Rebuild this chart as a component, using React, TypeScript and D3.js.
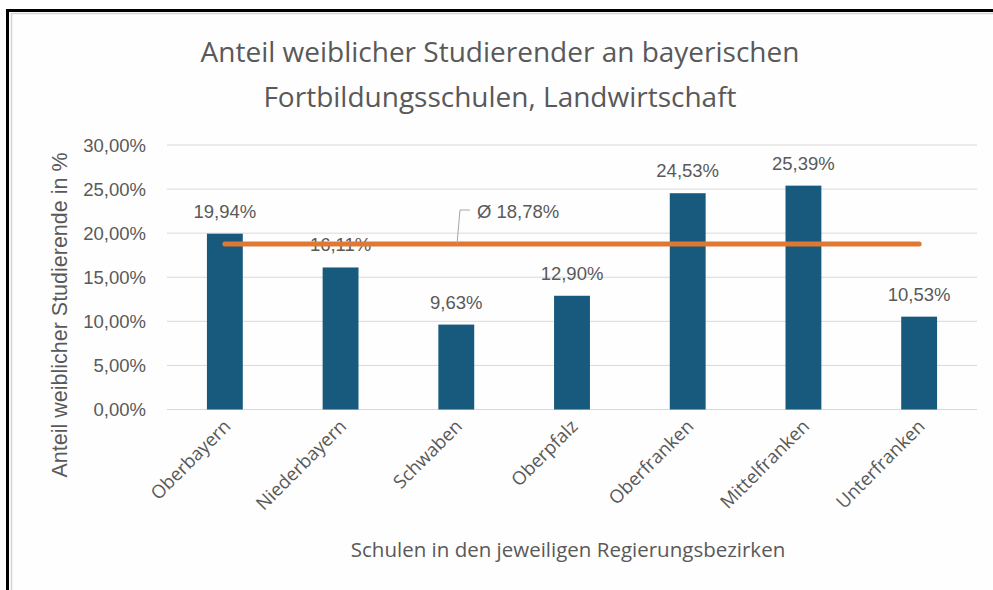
import React from "react";
import * as d3 from "d3";

const categories = ["Oberbayern", "Niederbayern", "Schwaben", "Oberpfalz", "Oberfranken", "Mittelfranken", "Unterfranken"];
const values = [19.94, 16.11, 9.63, 12.9, 24.53, 25.39, 10.53];
const average = 18.78;
const yTicks = [0, 5, 10, 15, 20, 25, 30];
const titleLines = ["Anteil weiblicher Studierender an bayerischen", "Fortbildungsschulen, Landwirtschaft"];
const yTitle = "Anteil weiblicher Studierende in %";
const xTitle = "Schulen in den jeweiligen Regierungsbezirken";

const W = 993, H = 590;
const left = 167, right = 977, top = 145, bottom = 409.5;
const fmt = (v: number) => v.toFixed(2).replace(".", ",") + "%";
const sans = "'Liberation Sans', Arial, sans-serif";
const aptos = "'Open Sans', 'Noto Sans', sans-serif";
const textCol = "#595959";

export default function App() {
  const x = d3.scaleBand<string>().domain(categories).range([left, right]).paddingInner(0.69).paddingOuter(0.345);
  const y = d3.scaleLinear().domain([0, 30]).range([bottom, top]);
  const xc = (c: string) => (x(c) as number) + x.bandwidth() / 2;
  const avgY = y(average);
  const leaderX = 457;
  return (
    <svg width={W} height={H} style={{ position: "absolute", left: 0, top: 0, background: "#fefefe" }}>
      <rect x={0} y={0} width={W} height={H} fill="#fefefe" />
      <rect x={6} y={9} width={3} height={H - 9} fill="#000" />
      <rect x={6} y={9} width={W - 6} height={3} fill="#000" />
      <line x1={11.5} y1={13} x2={11.5} y2={H} stroke="#d4d4d4" strokeWidth={1.5} />
      <line x1={11} y1={13.5} x2={W} y2={13.5} stroke="#d4d4d4" strokeWidth={1.5} />
      {titleLines.map((t, i) => (
        <text key={i} x={500} y={62 + i * 45} textAnchor="middle" fontFamily={aptos} fontSize={28} fill={textCol}>{t}</text>
      ))}
      {yTicks.map(t => (
        <g key={t}>
          <line x1={left} x2={right} y1={y(t)} y2={y(t)} stroke="#d9d9d9" strokeWidth={1} />
          <text x={146} y={y(t) + 6.5} textAnchor="end" fontFamily={sans} fontSize={18.5} fill={textCol}>{fmt(t)}</text>
        </g>
      ))}
      {categories.map((c, i) => (
        <g key={c}>
          <rect x={x(c)} y={y(values[i])} width={x.bandwidth()} height={bottom - y(values[i])} fill="#175a7d" />
          <text x={xc(c)} y={y(values[i]) - 16} textAnchor="middle" fontFamily={sans} fontSize={18.5} fill={textCol}>{fmt(values[i])}</text>
          <text transform={`translate(${xc(c) + 7},${bottom + 18}) rotate(-45)`} textAnchor="end" fontFamily={aptos} fontSize={18.5} fill={textCol}>{c}</text>
        </g>
      ))}
      <line x1={xc(categories[0])} x2={xc(categories[categories.length - 1])} y1={avgY} y2={avgY} stroke="#e07833" strokeWidth={5} strokeLinecap="round" />
      <polyline points={`${leaderX},${avgY} ${leaderX + 3},${210} ${leaderX + 13},${210}`} fill="none" stroke="#a6a6a6" strokeWidth={1} />
      <text x={477} y={218} fontFamily={sans} fontSize={18.5} fill={textCol}>{"Ø " + fmt(average)}</text>
      <text transform={`translate(67,${315}) rotate(-90)`} textAnchor="middle" fontFamily={sans} fontSize={21.5} fill={textCol}>{yTitle}</text>
      <text x={568} y={557} textAnchor="middle" fontFamily={aptos} fontSize={20.5} fill={textCol}>{xTitle}</text>
    </svg>
  );
}
